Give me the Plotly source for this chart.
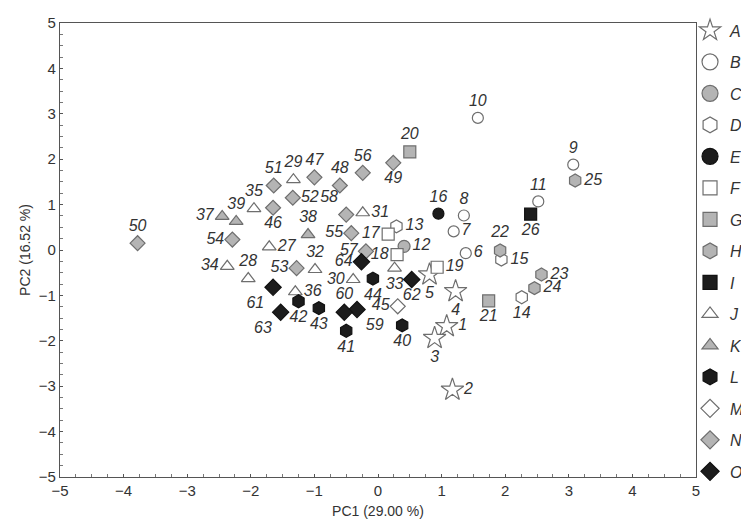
import plotly.graph_objects as go

# ---- data ----
point_ids = list(range(1, 65))
pc1 = [1.08, 1.17, 0.89, 1.22, 0.81, 1.38, 1.19, 1.35, 3.07, 1.57,
       2.52, 0.41, 0.29, 2.26, 1.94, 0.95, 0.16, 0.30, 0.93, 0.50,
       1.74, 1.92, 2.57, 2.46, 3.10, 2.40, -1.71, -2.04, -1.33, -0.39,
       -0.24, -0.99, 0.26, -2.37, -1.95, -1.30, -2.45, -1.10, -2.23, 0.38,
       -0.50, -1.25, -0.93, -0.08, 0.31, -1.65, -1.00, -0.60, 0.24, -3.78,
       -1.64, -1.34, -1.28, -2.29, -0.42, -0.24, -0.19, -0.50, -0.33, -0.53,
       -1.65, 0.53, -1.53, -0.26]
pc2 = [-1.68, -3.08, -1.94, -0.91, -0.54, -0.07, 0.41, 0.76, 1.88, 2.91,
       1.07, 0.08, 0.52, -1.04, -0.21, 0.80, 0.35, -0.10, -0.38, 2.16,
       -1.12, -0.01, -0.54, -0.84, 1.53, 0.79, 0.07, -0.63, 1.55, -0.65,
       0.82, -0.43, -0.40, -0.36, 0.91, -0.92, 0.74, 0.34, 0.63, -1.66,
       -1.78, -1.13, -1.28, -0.63, -1.24, 0.93, 1.60, 1.42, 1.92, 0.15,
       1.42, 1.15, -0.40, 0.23, 0.37, 1.70, -0.03, 0.78, -1.31, -1.37,
       -0.82, -0.65, -1.37, -0.26]
group_members = {
    "A": [1, 2, 3, 4, 5], "B": [6, 7, 8, 9, 10, 11], "C": [12], "D": [13, 14, 15],
    "E": [16], "F": [17, 18, 19], "G": [20, 21], "H": [22, 23, 24, 25], "I": [26],
    "J": [27, 28, 29, 30, 31, 32, 33, 34, 35, 36], "K": [37, 38, 39],
    "L": [40, 41, 42, 43, 44], "M": [45],
    "N": [46, 47, 48, 49, 50, 51, 52, 53, 54, 55, 56, 57, 58],
    "O": [59, 60, 61, 62, 63, 64],
}
group_names = ["A", "B", "C", "D", "E", "F", "G", "H", "I", "J", "K", "L", "M", "N", "O"]

# ---- styles ----
WHITE, GRAY, BLACK = "#ffffff", "#b4b4b4", "#1c1c1c"
# symbol, fill, plot marker size, legend marker size
style = {
    "A": ("star", WHITE, 17, 16), "B": ("circle", WHITE, 11, 16), "C": ("circle", GRAY, 12, 16),
    "D": ("hexagon", WHITE, 13, 16), "E": ("circle", BLACK, 11, 16), "F": ("square", WHITE, 12, 14),
    "G": ("square", GRAY, 12, 14), "H": ("hexagon", GRAY, 13, 16), "I": ("square", BLACK, 12, 14),
    "J": ("triangle-up", WHITE, 12, 14), "K": ("triangle-up", GRAY, 12, 14),
    "L": ("hexagon", BLACK, 13, 16), "M": ("diamond", WHITE, 11.5, 14),
    "N": ("diamond", GRAY, 11.5, 14), "O": ("diamond", BLACK, 12.5, 14),
}
label_pos = {
    1: "middle right", 2: "middle right", 3: "bottom center", 4: "bottom center",
    5: "bottom center", 6: "middle right", 7: "middle right", 8: "top center",
    9: "top center", 10: "top center", 11: "top center", 12: "middle right",
    13: "middle right", 14: "bottom center", 15: "middle right", 16: "top center",
    17: "middle left", 18: "middle left", 19: "middle right", 20: "top center",
    21: "bottom center", 22: "top center", 23: "middle right", 24: "middle right",
    25: "middle right", 26: "bottom center", 27: "middle right", 28: "top center",
    29: "top center", 30: "middle left", 31: "middle right", 32: "top center",
    33: "bottom center", 34: "middle left", 35: "top center", 36: "middle right",
    37: "middle left", 38: "top center", 39: "top center", 40: "bottom center",
    41: "bottom center", 42: "bottom center", 43: "bottom center", 44: "bottom center",
    45: "middle left", 46: "bottom center", 47: "top center", 48: "top center",
    49: "bottom center", 50: "top center", 51: "top center", 52: "middle right",
    53: "middle left", 54: "middle left", 55: "middle left", 56: "top center",
    57: "middle left", 58: "top left", 59: "bottom right", 60: "top center",
    61: "bottom left", 62: "bottom center", 63: "bottom left", 64: "middle left",
}

FONT = "Liberation Sans, Arial, sans-serif"
TXT = "#333333"

fig = go.Figure()
for g in group_names:
    idx = [point_ids.index(pid) for pid in group_members[g]]
    sym, fill, size, lsize = style[g]
    line_col = "#6e6e6e" if fill != BLACK else "#111111"
    fig.add_trace(go.Scatter(
        x=[pc1[k] for k in idx], y=[pc2[k] for k in idx],
        mode="markers+text",
        text=[str(point_ids[k]) for k in idx],
        textposition=[label_pos[point_ids[k]] for k in idx],
        textfont=dict(family=FONT, size=16, color=TXT, style="italic"),
        marker=dict(symbol=sym, size=size, color=fill,
                    line=dict(color=line_col, width=1.2)),
        name=g, legendgroup=g, showlegend=False, cliponaxis=False,
    ))
    # legend key (larger symbol, no data)
    fig.add_trace(go.Scatter(
        x=[None], y=[None], mode="markers",
        marker=dict(symbol=sym, size=lsize, color=fill,
                    line=dict(color=line_col, width=1.2)),
        name=g, legendgroup=g, showlegend=True,
    ))

axis_common = dict(
    range=[-5, 5], dtick=1, tick0=0, showgrid=False, zeroline=False,
    showline=True, linecolor="#555555", linewidth=1.2, mirror=True,
    ticks="inside", ticklen=3, tickcolor="#555555",
    minor=dict(dtick=0.25, ticks="inside", ticklen=3, tickcolor="#777777"),
    tickfont=dict(family=FONT, size=15, color=TXT),
    title_font=dict(family=FONT, size=14, color=TXT),
)

fig.update_layout(
    width=749, height=524,
    margin=dict(l=52, r=61, t=15, b=55, autoexpand=False),
    plot_bgcolor="white", paper_bgcolor="white",
    xaxis=dict(**axis_common, title=dict(text="PC1 (29.00 %)", standoff=8)),
    yaxis=dict(**axis_common, title=dict(text="PC2 (16.52 %)", standoff=4)),
    legend=dict(x=0.9906, y=1.021, xanchor="left", yanchor="top",
                font=dict(family=FONT, size=16, color=TXT, style="italic"),
                tracegroupgap=7.7, itemsizing="trace", itemwidth=30,
                maxheight=1.0, bgcolor="rgba(0,0,0,0)"),
    showlegend=True,
)

fig.write_html("out.html")
